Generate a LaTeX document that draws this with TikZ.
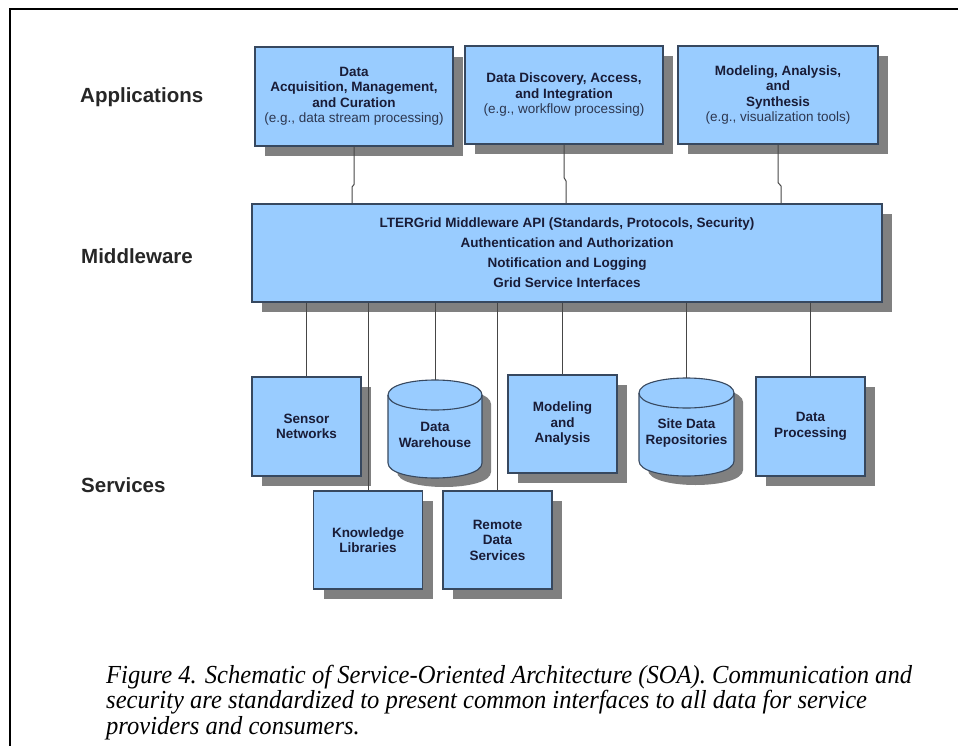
\documentclass[tikz,border=0pt]{standalone}
\usepackage{fontspec}
\setmainfont{Liberation Serif}
\newfontfamily\arialf{Liberation Sans}
\usetikzlibrary{shadows}
\definecolor{boxfill}{RGB}{153,204,255}
\definecolor{boxline}{RGB}{55,72,95}
\definecolor{shadowgray}{RGB}{128,128,128}
\definecolor{txt}{RGB}{25,28,55}
\definecolor{subtxt}{RGB}{45,55,80}
\definecolor{wire}{RGB}{70,70,70}
\tikzset{
  boxshadow/.style={drop shadow={shadow xshift=10pt, shadow yshift=-10pt, fill=shadowgray, opacity=1}},
  bluebox/.style={draw=boxline, line width=1.1pt, fill=boxfill, boxshadow, align=center,
    inner sep=0pt, text=txt, font=\arialf\bfseries\fontsize{13.5}{15.5}\selectfont},
  svctext/.style={align=center, inner sep=0pt, text=txt, font=\arialf\bfseries\fontsize{13.5}{15.5}\selectfont},
  sidelabel/.style={anchor=west, inner sep=0pt, text=black!85, font=\arialf\bfseries\fontsize{20.5}{23}\selectfont},
  wireline/.style={draw=wire, line width=1pt},
  captext/.style={anchor=base west, inner sep=0pt, font=\itshape\fontsize{26}{28}\selectfont},
}
\newcommand\dbcyl[5]{%
  \pgfmathsetmacro\cyA{#4+15}\pgfmathsetmacro\cyB{#5-15}%
  \pgfmathsetmacro\cxm{(#2+#3)/2}\pgfmathsetmacro\cym{(#4+#5)/2}%
  \pgfmathsetmacro\cw{#3-#2}\pgfmathsetmacro\ch{#5-#4}%
  \begin{scope}[shift={(9,9)}]
    \fill[shadowgray] (#2,\cyA) -- (#2,\cyB) .. controls (#2,\cyB+20) and (#3,\cyB+20) .. (#3,\cyB)
      -- (#3,\cyA) .. controls (#3,\cyA-20) and (#2,\cyA-20) .. (#2,\cyA) -- cycle;
  \end{scope}
  \filldraw[fill=boxfill, draw=boxline, line width=1.1pt] (#2,\cyA) -- (#2,\cyB) .. controls (#2,\cyB+20) and (#3,\cyB+20) .. (#3,\cyB)
      -- (#3,\cyA) .. controls (#3,\cyA-20) and (#2,\cyA-20) .. (#2,\cyA) -- cycle;
  \draw[draw=boxline, line width=1.1pt] (#2,\cyA) .. controls (#2,\cyA+20) and (#3,\cyA+20) .. (#3,\cyA);
  \node[inner sep=0pt, outer sep=0pt, minimum width=\cw pt, minimum height=\ch pt] (#1) at (\cxm,\cym) {};
}
\begin{document}
\begin{tikzpicture}[x=1pt, y=-1pt]
\useasboundingbox (0,0) rectangle (958,746);
\draw[line width=2pt] (10,746) -- (10,9.5) -- (958,9.5);

% side labels
\node[sidelabel] (lapp) at (80,97) {Applications};
\node[sidelabel] (lmid) at (81,256) {Middleware};
\node[sidelabel] (lsvc) at (81,485) {Services};

% applications
\node[bluebox, minimum width=198pt, minimum height=99pt] (app1) at (354,96.5)
  {Data\\Acquisition, Management,\\and Curation\\{\mdseries\color{subtxt}(e.g., data stream processing)}};
\node[bluebox, minimum width=198pt, minimum height=98pt] (app2) at (564,95)
  {Data Discovery, Access,\\and Integration\\{\mdseries\color{subtxt}(e.g., workflow processing)}};
\node[bluebox, minimum width=200pt, minimum height=98pt] (app3) at (778,95)
  {Modeling, Analysis,\\and\\Synthesis\\{\mdseries\color{subtxt}(e.g., visualization tools)}};

% middleware
\node[bluebox, minimum width=630pt, minimum height=98pt, font=\arialf\bfseries\fontsize{13.5}{20}\selectfont] (mw) at (567,253)
  {LTERGrid Middleware API (Standards, Protocols, Security)\\Authentication and Authorization\\Notification and Logging\\Grid Service Interfaces};

% services
\node[bluebox, minimum width=109pt, minimum height=99pt] (sensor) at (306.5,426.5) {Sensor\\Networks};
\node[bluebox, minimum width=109pt, minimum height=98pt] (know) at (368,540) {Knowledge\\Libraries};
\node[bluebox, minimum width=109pt, minimum height=98pt] (model) at (562.5,424) {Modeling\\and\\Analysis};
\node[bluebox, minimum width=109pt, minimum height=98pt] (remote) at (497.5,540) {Remote\\Data\\Services};
\node[bluebox, minimum width=109pt, minimum height=99pt] (proc) at (810.5,426.5) {Data\\Processing};
\dbcyl{dw}{388}{482}{380}{478}
\node[svctext] (dwt) at (435,435) {Data\\Warehouse};
\dbcyl{site}{639}{734}{378}{476}
\node[svctext] (sitet) at (686.5,433) {Site Data\\Repositories};

% connectors applications -> middleware
\coordinate (j1) at (352,187);
\coordinate (j2) at (566,181);
\coordinate (j3) at (781,186);
\draw[wireline] (app1.south) -- ++(0,38) -- (j1) -- (j1 |- mw.north);
\draw[wireline] (app2.south) -- ++(0,33) -- (j2) -- (j2 |- mw.north);
\draw[wireline] (app3.south) -- ++(0,38) -- (j3) -- (j3 |- mw.north);

% connectors middleware -> services
\draw[wireline] (mw.south -| sensor.north) -- (sensor.north);
\draw[wireline] (mw.south -| know.north) -- (know.north);
\draw[wireline] (mw.south -| dw.north) -- (dw.north);
\draw[wireline] (mw.south -| remote.north) -- (remote.north);
\draw[wireline] (mw.south -| model.north) -- (model.north);
\draw[wireline] (mw.south -| site.north) -- (site.north);
\draw[wireline] (mw.south -| proc.north) -- (proc.north);

% caption
\node[captext] (cap1) at (106,683) {\scalebox{0.945}[1]{Figure 4. Schematic of Service-Oriented Architecture (SOA). Communication and}};
\node[captext] (cap2) at (106,708.5) {\scalebox{0.945}[1]{security are standardized to present common interfaces to all data for service}};
\node[captext] (cap3) at (106,734) {\scalebox{0.945}[1]{providers and consumers.}};
\end{tikzpicture}
\end{document}
